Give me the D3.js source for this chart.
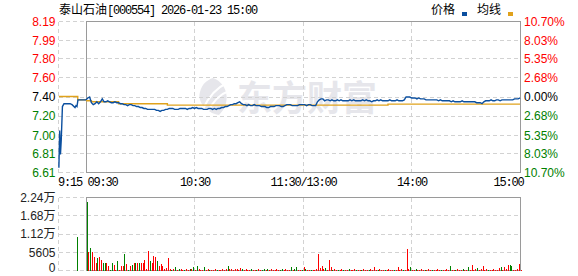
<!DOCTYPE html>
<html>
<head>
<meta charset="utf-8">
<script src="https://cdn.jsdelivr.net/npm/d3@7.9.0/dist/d3.min.js"></script>
<style>
  html, body { margin: 0; padding: 0; background: #fff; }
  svg { display: block; }
</style>
</head>
<body>
<svg id="chart" width="578" height="276"></svg>
<script>
// ---- data ----
const stockName = '泰山石油';
const stockInfo = '[000554] 2026-01-23 15:00';
const legendNames = ['价格', '均线'];
const prevClose = 7.40;
const priceTicks = [8.19, 7.99, 7.80, 7.60, 7.40, 7.20, 7.00, 6.81, 6.61];
const pctLabels = ['10.70%', '8.03%', '5.35%', '2.68%', '0.00%', '2.68%', '5.35%', '8.03%', '10.70%'];
const timeTicks = [0, 60, 120, 180, 240];
const timeLabels = ['09:30', '10:30', '11:30/13:00', '14:00', '15:00'];
const preLabel = '9:15';
const volTicks = [22420, 16815, 11210, 5605, 0];
const volLabels = ['2.24万', '1.68万', '1.12万', '5605', '0'];

// call auction, minutes after 9:15
const preMinutes = [0.2, 0.6, 1.0, 1.4, 2.0, 2.8, 5.9, 6.9, 8.4, 8.9, 9.4, 9.9, 14];
const prePrices = [6.66, 7.05, 6.80, 6.95, 7.30, 7.33, 7.33, 7.32, 7.29, 7.31, 7.30, 7.37, 7.37];
const preAvgMinutes = [0.2, 9.8, 14];
const preAvgPrices = [7.405, 7.37, 7.37];
const preVolMinutes = [9.9];
const preVolumes = [-10400];

// one value per minute, 9:30 .. 11:30 then 13:01 .. 15:00
const prices = [
  7.37, 7.39, 7.40, 7.34, 7.32, 7.33, 7.35, 7.33, 7.35, 7.38,
  7.35, 7.35, 7.36, 7.35, 7.34, 7.34, 7.35, 7.34, 7.34, 7.33,
  7.33, 7.32, 7.32, 7.31, 7.32, 7.32, 7.31, 7.31, 7.30, 7.30,
  7.29, 7.29, 7.28, 7.28, 7.27, 7.27, 7.27, 7.27, 7.27, 7.26,
  7.26, 7.25, 7.26, 7.26, 7.27, 7.27, 7.28, 7.28, 7.28, 7.27,
  7.27, 7.27, 7.28, 7.28, 7.28, 7.28, 7.27, 7.28, 7.28, 7.29,
  7.28, 7.29, 7.28, 7.28, 7.28, 7.27, 7.27, 7.27, 7.28, 7.28,
  7.27, 7.28, 7.27, 7.28, 7.28, 7.29, 7.29, 7.30, 7.30, 7.31,
  7.32, 7.32, 7.33, 7.33, 7.34, 7.35, 7.33, 7.32, 7.32, 7.31,
  7.32, 7.31, 7.31, 7.32, 7.31, 7.31, 7.31, 7.30, 7.30, 7.30,
  7.29, 7.29, 7.30, 7.30, 7.30, 7.31, 7.31, 7.31, 7.30, 7.30,
  7.31, 7.32, 7.32, 7.32, 7.31, 7.31, 7.31, 7.31, 7.32, 7.32,
  7.32, 7.32, 7.31, 7.32, 7.32, 7.31, 7.31, 7.31, 7.35, 7.37,
  7.38, 7.38, 7.36, 7.37, 7.37, 7.36, 7.37, 7.36, 7.36, 7.37,
  7.36, 7.37, 7.36, 7.36, 7.36, 7.36, 7.37, 7.36, 7.37, 7.36,
  7.36, 7.36, 7.36, 7.37, 7.36, 7.37, 7.36, 7.36, 7.35, 7.36,
  7.36, 7.37, 7.36, 7.37, 7.36, 7.36, 7.36, 7.36, 7.37, 7.36,
  7.36, 7.36, 7.37, 7.36, 7.36, 7.36, 7.37, 7.40, 7.40, 7.40,
  7.39, 7.39, 7.39, 7.38, 7.39, 7.38, 7.38, 7.38, 7.37, 7.37,
  7.37, 7.37, 7.37, 7.37, 7.37, 7.36, 7.37, 7.36, 7.36, 7.36,
  7.36, 7.36, 7.35, 7.36, 7.35, 7.35, 7.35, 7.35, 7.36, 7.35,
  7.35, 7.35, 7.35, 7.35, 7.35, 7.35, 7.34, 7.34, 7.34, 7.33,
  7.35, 7.36, 7.36, 7.36, 7.37, 7.36, 7.36, 7.37, 7.37, 7.36,
  7.37, 7.37, 7.37, 7.37, 7.37, 7.37, 7.37, 7.38, 7.38, 7.38,
  7.39
];

// average price line, [minute, price] where it steps
const avgMinutes = [0, 3, 18, 45, 167, 240];
const avgPrices = [7.36, 7.35, 7.33, 7.315, 7.325, 7.325];

// per-minute volume, + = up tick (red), - = down tick (green)
const volumes = [
  -20900, 5600, -6900, 5600, 4100, 2300, -3900, 4100, 3100, -2300,
  -2300, 2300, 1500, -300, -2200, 1800, 300, -2800, 300, 1500,
  1500, -5200, 2100, -300, 1500, -1800, 2200, -2200, 2200, -2200,
  2200, 2200, 3100, 600, 5900, -2800, 2300, 4300, 4100, -2800,
  1500, 2000, 1500, 600, 700, 3800, 500, -300, 400, -1000,
  300, -400, 500, 300, -300, 400, 300, -400, 500, -1100,
  300, -1500, 400, 300, 300, -1000, 300, 400, -300, 300,
  300, 400, -300, 300, 300, 400, 300, 500, -1500, 400,
  500, 300, 600, 400, 300, 700, -400, 300, 400, 300,
  300, -400, 300, 300, -300, 400, 300, -300, -400, 300,
  -500, 300, 400, 300, 300, 400, 300, -300, -400, 300,
  400, 300, 300, -1000, 300, -400, -1200, 300, 300, -300,
  1000, -400, 300, 300, -300, 300, 300, 400, 5200, 700,
  1500, 400, -700, 300, 3100, 1000, -300, 400, 300, -300,
  300, 400, -300, 300, 300, -400, 300, 300, 400, -300,
  300, 300, -300, 400, 300, 300, -300, 400, 300, 1200,
  300, -300, 400, 300, 300, -300, 300, 400, 300, 300,
  -300, 300, 1000, 300, 400, -300, 300, 6650, 400, -1000,
  300, 300, -400, 300, 300, 400, 300, -300, 300, 400,
  300, -300, 300, 300, 400, 300, -300, 300, 300, 400,
  300, -1300, 300, 300, -300, 400, 300, 300, -400, 300,
  300, -1000, 300, 1600, 300, 400, -700, 300, 400, 1500,
  300, 400, -300, 300, 300, 400, 300, 300, 700, -1000,
  300, 1000, 400, 1600, -1600, -1300, 300, 300, 400, 1900,
  300
];

// ---- drawing ----
const RED = '#ff0000', GREEN = '#008000', BLUE = '#0b4f9f', GOLD = '#e0a21c';
const FRAME = '#9a9a9a', GRID = '#d2d2d2';
const SANS = '"Liberation Sans", Arial, "Noto Sans CJK SC", sans-serif';
const MONO = '"Liberation Mono", "DejaVu Sans Mono", monospace';
const CJK = '"Noto Sans CJK SC", sans-serif';

const svg = d3.select('#chart');

const left = 86, right = 520, preLeft = 58.5;
const x = d3.scaleLinear().domain([0, 240]).range([left, right]);
const xPre = d3.scaleLinear().domain([0, 14]).range([preLeft, left]);
const y = d3.scaleLinear().domain([6.61, 8.19]).range([172.5, 21.5]);
const yVol = d3.scaleLinear().domain([0, 22420]).range([270.5, 197.5]);

// watermark
const wm = svg.append('g').attr('fill', '#e6e6eb');
wm.append('path')
  .attr('d', 'M213 78 C229 84 231 104 219 115 C206 113 197 101 200 92 C202 84 207 80 213 78 Z');
wm.append('path')
  .attr('d', 'M203 109 C209 96 216 88 227 83 M207 113 C213 101 220 94 229 91')
  .attr('fill', 'none').attr('stroke', '#fff').attr('stroke-width', 2);
wm.append('text')
  .attr('x', 237).attr('y', 111)
  .attr('font-family', CJK).attr('font-weight', 700).attr('font-size', 35)
  .text('东方财富');

// grids
const grid = svg.append('g')
  .attr('stroke', GRID).attr('stroke-dasharray', '4,3').attr('shape-rendering', 'crispEdges');

grid.selectAll('.gp').data(priceTicks).join('line')
  .attr('x1', preLeft).attr('x2', right)
  .attr('y1', d => y(d)).attr('y2', d => y(d));
grid.selectAll('.gv').data(volTicks).join('line')
  .attr('x1', preLeft).attr('x2', right)
  .attr('y1', d => yVol(d)).attr('y2', d => yVol(d));
grid.selectAll('.gt').data(timeTicks.slice(1, 4)).join('line')
  .attr('x1', d => x(d)).attr('x2', d => x(d)).attr('y1', y(8.19)).attr('y2', y(6.61));
grid.selectAll('.gtv').data(timeTicks.slice(1, 4)).join('line')
  .attr('x1', d => x(d)).attr('x2', d => x(d)).attr('y1', yVol(22420)).attr('y2', yVol(0));
grid.append('line').attr('x1', preLeft).attr('x2', preLeft).attr('y1', y(8.19)).attr('y2', y(6.61));
grid.append('line').attr('x1', preLeft).attr('x2', preLeft).attr('y1', yVol(22420)).attr('y2', yVol(0));

// frames
const frames = svg.append('g').attr('fill', 'none').attr('stroke', FRAME).attr('shape-rendering', 'crispEdges');
frames.append('rect')
  .attr('x', left).attr('y', y(8.19)).attr('width', right - left).attr('height', y(6.61) - y(8.19));
frames.append('rect')
  .attr('x', left).attr('y', yVol(22420)).attr('width', right - left).attr('height', yVol(0) - yVol(22420));

// volume bars
const bars = svg.append('g').attr('shape-rendering', 'crispEdges');
bars.selectAll('.vb').data(volumes).join('rect')
  .attr('x', (d, i) => Math.floor(x(i)) + 1)
  .attr('width', 1)
  .attr('y', d => yVol(Math.abs(d)))
  .attr('height', d => yVol(0) - yVol(Math.abs(d)))
  .attr('fill', d => d >= 0 ? RED : GREEN);
bars.selectAll('.pb').data(preVolumes).join('rect')
  .attr('x', (d, i) => Math.floor(xPre(preVolMinutes[i])))
  .attr('width', 1)
  .attr('y', d => yVol(Math.abs(d)))
  .attr('height', d => yVol(0) - yVol(Math.abs(d)))
  .attr('fill', d => d >= 0 ? RED : GREEN);

// average lines
const avgLine = d3.line().curve(d3.curveStepAfter).x(d => d[0]).y(d => y(d[1]));
svg.append('path')
  .attr('d', avgLine(preAvgMinutes.map((m, i) => [xPre(m), preAvgPrices[i]])))
  .attr('fill', 'none').attr('stroke', GOLD).attr('stroke-width', 1.4);
svg.append('path')
  .attr('d', avgLine(avgMinutes.map((m, i) => [x(m), avgPrices[i]])))
  .attr('fill', 'none').attr('stroke', GOLD).attr('stroke-width', 1.4);

// price lines
const priceLine = d3.line().x(d => d[0]).y(d => y(d[1]));
svg.append('path')
  .attr('d', priceLine(preMinutes.map((m, i) => [xPre(m), prePrices[i]])))
  .attr('fill', 'none').attr('stroke', BLUE).attr('stroke-width', 1.4);
svg.append('path')
  .attr('d', priceLine(prices.map((p, i) => [x(i), p])))
  .attr('fill', 'none').attr('stroke', BLUE).attr('stroke-width', 1.4);

// axes
function styleAxis(g, family) {
  g.select('.domain').remove();
  g.selectAll('text').attr('font-family', family).attr('font-size', 12);
}
const colorFor = d => d > prevClose + 1e-9 ? RED : (d < prevClose - 1e-9 ? GREEN : '#000');

const gLeft = svg.append('g').attr('transform', `translate(${preLeft},0)`)
  .call(d3.axisLeft(y).tickValues(priceTicks).tickFormat(d3.format('.2f')).tickSize(0).tickPadding(3));
styleAxis(gLeft, SANS);
gLeft.selectAll('text').attr('fill', colorFor);

const gRight = svg.append('g').attr('transform', `translate(${right},0)`)
  .call(d3.axisRight(y).tickValues(priceTicks).tickFormat((d, i) => pctLabels[i]).tickSize(0).tickPadding(4));
styleAxis(gRight, SANS);
gRight.selectAll('text').attr('fill', colorFor);

const gVol = svg.append('g').attr('transform', `translate(${preLeft},0)`)
  .call(d3.axisLeft(yVol).tickValues(volTicks).tickFormat((d, i) => volLabels[i]).tickSize(0).tickPadding(3));
styleAxis(gVol, SANS);
gVol.selectAll('text').attr('fill', '#222')
  .attr('y', d => d === 0 ? -2.5 : 0);

const gTime = svg.append('g').attr('transform', `translate(0,${y(6.61)})`)
  .call(d3.axisBottom(x).tickValues(timeTicks).tickFormat((d, i) => timeLabels[i]).tickSize(0).tickPadding(5));
styleAxis(gTime, MONO);
gTime.selectAll('text').attr('fill', '#000').attr('letter-spacing', '-1.2px')
  .attr('text-anchor', (d, i) => i === 0 ? 'start' : (i === timeTicks.length - 1 ? 'end' : 'middle'))
  .attr('dx', (d, i) => i === 0 ? 1 : (i === timeTicks.length - 1 ? 3 : 0));

const gPre = svg.append('g').attr('transform', `translate(0,${y(6.61)})`)
  .call(d3.axisBottom(xPre).tickValues([0]).tickFormat(() => preLabel).tickSize(0).tickPadding(5));
styleAxis(gPre, MONO);
gPre.selectAll('text').attr('fill', '#000').attr('letter-spacing', '-1.2px')
  .attr('text-anchor', 'start').attr('dx', -1);

// title
const title = svg.append('text').attr('x', 59).attr('y', 14).attr('font-size', 12).attr('fill', '#000');
title.append('tspan').attr('font-family', CJK).text(stockName);
title.append('tspan').attr('font-family', MONO).attr('letter-spacing', '-1.2px').text(stockInfo);

// legend
const legendX = [431, 477];
const legendColors = [BLUE, GOLD];
const legend = svg.append('g');
legend.selectAll('text').data(legendNames).join('text')
  .attr('x', (d, i) => legendX[i]).attr('y', 14)
  .attr('font-family', CJK).attr('font-size', 12).attr('fill', '#000')
  .text(d => d);
legend.selectAll('rect').data(legendColors).join('rect')
  .attr('x', (d, i) => legendX[i] + 31).attr('y', 12)
  .attr('width', 5).attr('height', 4)
  .attr('fill', d => d);
</script>
</body>
</html>
